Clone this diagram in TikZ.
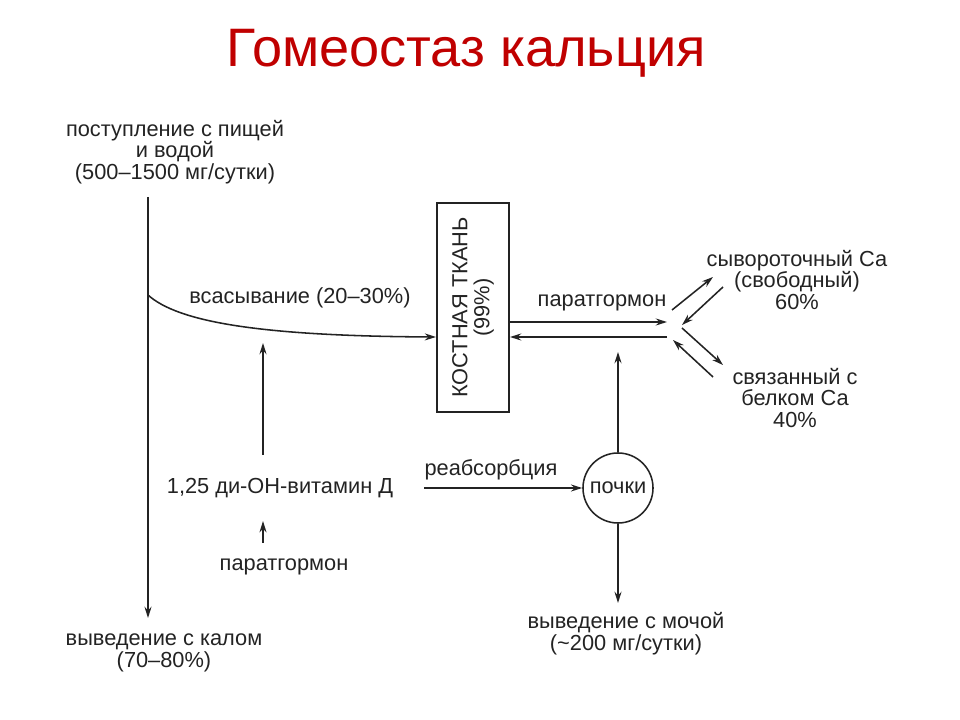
\documentclass[tikz,border=0pt]{standalone}
\usepackage{fontspec}
\setmainfont{Liberation Sans}
\usetikzlibrary{arrows.meta}
\definecolor{titlered}{RGB}{192,0,0}
\definecolor{ink}{RGB}{35,35,35}
\begin{document}
\begin{tikzpicture}[x=0.025cm,y=-0.025cm]
 \tikzset{directed/.style={draw=ink, line width=1.1pt, -{Stealth[length=8pt,width=5pt]}},
  lbl/.style={align=center, text=ink, inner sep=0pt, font=\fontsize{15.5}{15.5}\selectfont}}
  \useasboundingbox (0,0) rectangle (960,720);
  \node[text=titlered, anchor=base, font=\fontsize{38.5}{44}\selectfont] (TITLE) at (466,67) {Гомеостаз кальция};
  % left column
  \node[lbl] (INTAKE) at (175,152) {поступление с пищей\\и водой\\(500–1500 мг/сутки)};
  \node[lbl] (FECES) at (164,653) {выведение с калом\\(70–80\%)};
  \coordinate (IN) at (148,197);
  \coordinate (OUT) at (148,618);
  \coordinate (BRANCH) at (148,295);
  \draw[directed] (IN) -- (OUT);
  \node[draw=ink, line width=1.4pt, minimum width=1.8cm, minimum height=5.225cm] (BONE) at (473,307.5) {};
  \node[lbl, rotate=90] (BONETXT) at (BONE) {КОСТНАЯ ТКАНЬ\\(99\%)};
  \node[lbl] (ABSORB) at (300,298) {всасывание (20–30\%)};
  \draw[directed] (BRANCH) .. controls (178,322) and (260,336) .. (BONE.west |- 0,337);
  \node[lbl, inner ysep=0.575cm] (VITD) at (280,488) {1,25 ди-ОН-витамин Д};
  \node[lbl, inner ysep=0.4cm] (PTH1) at (284,567) {паратгормон};
  \coordinate (VITTIP) at (263,343);
  \draw[directed] (VITD.north -| VITTIP) -- (VITTIP);
  \draw[directed] (PTH1.north -| VITTIP) -- (VITD.south -| VITTIP);
  % right of the bone
  \node[lbl] (PTH2) at (602,303) {паратгормон};
  \coordinate (JUP) at (667,322);
  \coordinate (JLO) at (667,337);
  \draw[directed] (BONE.east |- JUP) -- (JUP);
  \draw[directed] (JLO) -- (BONE.east |- JLO);
  \node[lbl] (FREE) at (797,280) {сывороточный Са\\(свободный)\\60\%};
  \node[lbl] (BOUND) at (795,398) {связанный с\\белком Са\\40\%};
  \coordinate (A1) at (672,310); \coordinate (A2) at (713,277);
  \coordinate (B1) at (723,287); \coordinate (B2) at (682,325);
  \coordinate (C1) at (682,328); \coordinate (C2) at (723,365);
  \coordinate (D1) at (713,377); \coordinate (D2) at (673,340);
  \draw[directed] (A1) -- (A2);
  \draw[directed] (B1) -- (B2);
  \draw[directed] (C1) -- (C2);
  \draw[directed] (D1) -- (D2);
  % kidney
  \node[draw=ink, circle, line width=1.1pt, minimum size=1.75cm, lbl] (KIDNEY) at (618,488) {почки};
  \node[lbl] (REABS) at (491,470) {реабсорбция};
  \node[lbl] (URINE) at (626,634) {выведение с мочой\\(\textasciitilde200 мг/сутки)};
  \coordinate (KUP) at (618,352);
  \coordinate (KDOWN) at (618,603);
  \draw[directed] (KIDNEY.north) -- (KUP);
  \draw[directed] (KIDNEY.south) -- (KDOWN);
  \draw[directed] (REABS.west |- KIDNEY.west) -- (KIDNEY.west);
\end{tikzpicture}
\end{document}
